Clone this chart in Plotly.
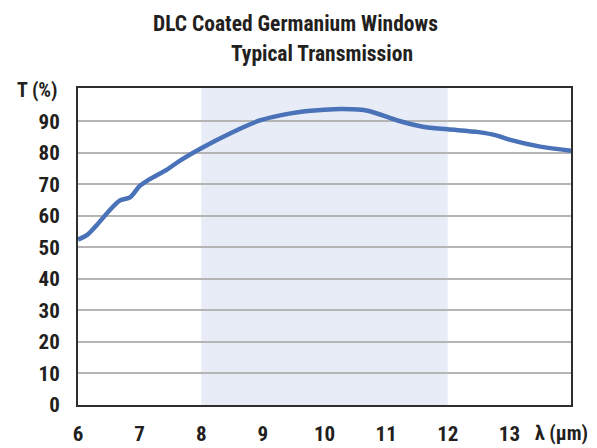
import plotly.graph_objects as go

wavelength = [6.0, 6.15, 6.3, 6.5, 6.67, 6.85, 7.0, 7.15, 7.45, 7.65, 8.0, 8.5, 8.95, 9.3, 9.6,
              10.0, 10.3, 10.7, 11.2, 11.6, 12.0, 12.5, 12.8, 13.0, 13.5, 14.0]
transmission = [52.5, 54, 57, 61.5, 64.8, 66, 69.5, 71.5, 74.8, 77.5, 81.5, 86.5, 90.3, 92, 93,
                93.7, 93.9, 93.4, 90.2, 88.3, 87.5, 86.6, 85.5, 84.2, 82, 80.7]
band = [8, 12]
x_ticks = [6, 7, 8, 9, 10, 11, 12, 13]
y_ticks = [0, 10, 20, 30, 40, 50, 60, 70, 80, 90]

FONT = "Roboto Condensed, DejaVu Sans Condensed, sans-serif"
TXT = "#231f20"

fig = go.Figure()
fig.add_vrect(x0=band[0], x1=band[1], fillcolor="#e8ecf7", line_width=0, layer="below")
fig.add_trace(go.Scatter(x=wavelength, y=transmission, mode="lines",
                         line=dict(color="#4a72b8", width=4.5, shape="spline", smoothing=0.8),
                         hoverinfo="x+y", showlegend=False))

tickfont = dict(family=FONT, size=21, color=TXT, weight="bold")

fig.update_layout(
    width=589, height=440,
    margin=dict(l=70, r=26, t=80, b=43, autoexpand=False),
    paper_bgcolor="white", plot_bgcolor="rgba(0,0,0,0)",
    font=dict(family=FONT, color=TXT, size=18),
    xaxis=dict(range=[6, 14], tickvals=x_ticks, ticktext=[str(v) for v in x_ticks],
               showgrid=False, zeroline=False, showline=True, linecolor="#2e2e2e",
               linewidth=2, mirror=True, ticks="", ticklabelstandoff=9,
               tickfont=tickfont, automargin=False),
    yaxis=dict(range=[0, 100.6], tickvals=y_ticks, showgrid=True, gridcolor="#b5b5b5",
               gridwidth=1.6, zeroline=False, showline=True, linecolor="#2e2e2e",
               linewidth=2, mirror=True, ticks="", ticklabelstandoff=12,
               tickfont=tickfont, automargin=False),
    annotations=[
        dict(text="<b>DLC Coated Germanium Windows</b>", xref="paper", yref="paper",
             x=0.442, y=1.205, xanchor="center", yanchor="middle", showarrow=False,
             font=dict(family=FONT, size=21.5, color=TXT)),
        dict(text="<b>Typical Transmission</b>", xref="paper", yref="paper",
             x=0.495, y=1.108, xanchor="center", yanchor="middle", showarrow=False,
             font=dict(family=FONT, size=21.5, color=TXT)),
        dict(text="<b>T (%)</b>", xref="paper", yref="paper", x=-0.0365, y=0.994,
             xanchor="right", yanchor="middle", showarrow=False,
             font=dict(family=FONT, size=20, color=TXT)),
        dict(text="<b>λ (μm)</b>", xref="paper", yref="paper", x=0.98, y=-0.088,
             xanchor="center", yanchor="middle", showarrow=False,
             font=dict(family=FONT, size=20, color=TXT)),
    ],
)

fig.write_html("out.html")
